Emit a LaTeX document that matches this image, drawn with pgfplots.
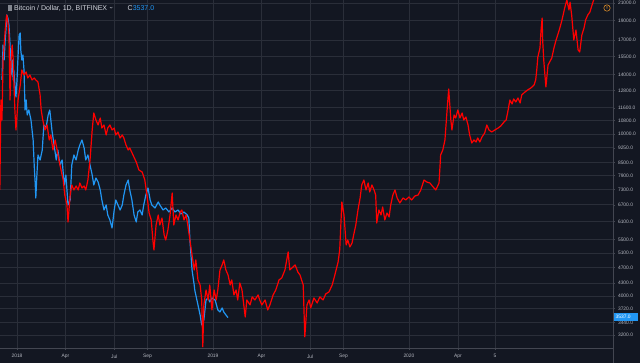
\documentclass[border=0pt]{standalone}
\usepackage{pgfplots}
\pgfplotsset{compat=1.18}
\usepackage{pgfplotstable}
\usepackage{fontspec}
\setmainfont{Liberation Sans}
\definecolor{bg}{HTML}{131722}
\definecolor{gridc}{HTML}{2A2E39}
\definecolor{txt}{HTML}{B2B5BE}
\definecolor{ttl}{HTML}{D1D4DC}
\definecolor{tvblue}{HTML}{2196F3}
\definecolor{tvred}{HTML}{FF0000}
\definecolor{axc}{HTML}{434651}
\definecolor{warn}{HTML}{F59B2A}

% day = days since 2018-01-01, price in USD
\pgfplotstableread{
day price
-32 7285
-30 12125
-28 10827
-26 15207
-24 16555
-22 18022
-20 19289
-19 19620
-17 18856
-15 17520
-13 12125
-11 15207
-9 16555
-7 15207
-6 13579
-4 11458
-2 10231
0 11138
2 12125
6 13200
9 14370
13 13969
17 14208
20 13733
24 13969
28 13579
32 13733
35 13579
39 13426
43 12473
45 11458
48 10827
52 10231
56 10525
60 9668
63 9946
67 9136
71 9668
74 9239
78 8633
82 8158
86 7709
89 7081
93 6692
95 6078
99 7081
102 7494
106 7285
110 7452
114 7285
117 7579
121 7367
125 7452
128 7285
132 7709
136 8633
140 10231
143 11264
147 10827
151 10525
155 10950
158 10347
162 10525
166 9946
169 10347
173 10525
177 10231
181 10347
184 9946
188 10115
192 9778
196 9946
199 9778
203 9398
207 9136
210 9239
216 8881
222 8535
227 8158
233 8066
238 7709
242 7081
246 6395
250 6147
253 5489
255 5187
259 5975
263 6323
266 5975
270 6216
274 5647
277 5489
281 5809
285 6323
289 7162
292 5975
296 6323
300 6147
304 6431
307 6505
311 6147
315 6323
318 5975
322 5489
326 5042
330 4632
333 4902
337 4377
341 4255
344 3909
346 2997
348 3800
352 4137
356 3909
359 4255
363 3694
367 4137
371 3909
374 4137
378 4632
382 4765
385 4902
389 4632
393 4503
397 4255
400 4377
404 4021
408 4137
411 3909
415 4303
419 4137
425 3550
428 3909
434 3800
438 3976
443 3909
449 4021
452 3909
456 3800
462 3909
467 3694
471 3800
477 4021
482 4137
488 4377
493 4427
499 4632
505 5128
508 4632
512 4684
518 4765
523 4580
527 4503
533 4255
536 3171
540 3800
544 3909
547 3736
553 3953
559 3843
564 3976
570 3909
575 4044
581 4090
587 4255
592 4503
598 4847
601 5187
605 6806
609 6323
613 5336
616 5489
620 5276
624 5396
627 5647
631 5975
635 6505
639 6961
642 7494
646 7709
650 7285
654 7579
657 7203
661 7494
665 7285
668 7081
670 6043
674 6505
678 6323
681 6616
685 6147
689 6395
693 6252
696 6692
700 7081
704 7285
708 6961
713 6768
719 6961
724 6884
730 7001
735 6884
741 7041
747 7081
752 7285
758 7709
763 7622
769 7579
775 7409
780 7285
786 7579
789 8881
793 9136
797 9668
801 11458
804 12904
808 10827
810 10231
814 11138
817 10950
821 11458
825 10950
829 11264
832 10827
836 11012
840 10525
843 9946
847 9505
851 9668
855 9559
858 9778
862 9559
866 9834
871 10058
875 10525
879 10231
884 10115
890 10231
896 10347
901 10466
907 10705
911 10827
914 11329
918 12125
922 11853
925 12194
929 11988
933 12262
937 11920
940 12473
946 12686
951 12831
957 12977
963 13200
966 13579
968 14370
970 15467
974 16275
976 18022
978 19289
979 17031
981 15207
985 13051
989 14782
992 15035
996 15380
1000 16275
1004 17031
1007 17520
1011 18227
1015 19072
1020 20412
1024 21360
1028 20183
1030 21100
1033 19620
1037 17031
1041 18022
1045 16093
1048 15911
1052 17520
1056 18227
1059 19072
1063 19620
1067 19955
1071 20763
1074 21360
1078 22500
}\redtable

\pgfplotstableread{
day price
-28 13579
-26 16555
-24 15207
-22 17031
-20 18540
-19 19620
-17 19289
-15 18540
-13 16555
-11 13969
-9 15207
-7 13579
-6 14370
-4 13200
-2 12332
0 13579
2 15644
4 17520
6 17717
7 16093
9 15207
11 15644
13 14370
15 11458
17 12125
19 11138
22 11458
26 10827
30 9668
32 8392
34 7494
35 6961
37 7930
39 8881
43 8633
47 9136
50 10525
54 10347
58 11138
61 11458
65 10231
69 9398
73 8633
76 9136
80 8392
84 8633
88 7494
91 7930
95 6692
99 6884
102 8392
106 8881
110 8633
114 9136
117 9398
121 9668
125 9239
128 8633
132 8881
136 8392
140 7930
143 7494
147 7796
151 7622
155 7285
158 6884
162 6505
166 6692
169 6323
173 6147
177 5874
181 6505
184 6884
188 6692
192 6505
196 6692
199 7081
203 7494
207 7709
210 7285
214 6884
218 6323
222 6078
225 6431
229 6505
233 6323
236 6692
240 7081
244 7367
248 6884
251 6692
257 6579
263 6806
266 6692
272 6505
277 6579
283 6431
289 6579
294 6431
300 6505
305 6359
311 6431
317 6323
320 6216
322 5489
326 4632
330 4255
331 4137
335 3909
339 3694
341 3591
344 3393
348 3491
352 3909
356 3953
359 3865
363 3953
369 3909
374 3694
378 3652
382 3736
385 3652
389 3591
393 3537
}\bluetable

\begin{document}
\begin{tikzpicture}[x=1pt,y=1pt]
\fill[bg] (0,-15) rectangle (640,348);
\begin{axis}[
  at={(0,0)}, anchor=south west,
  scale only axis, width=613pt, height=348pt,
  xmin=-31.7, xmax=1110, ymin=2978, ymax=21360,
  ymode=log,
  axis line style={draw=none},
  xtick={0,90,181,243,365,455,546,608,730,821,890},
  xticklabels={2018,Apr,Jul,Sep,2019,Apr,Jul,Sep,2020,Apr,5},
  ytick={21000,19000,17000,15500,14000,12800,11600,10800,10000,9250,8500,7900,7300,6700,6100,5500,5100,4700,4300,4000,3720,3440,3200},
  yticklabels={21000.0,19000.0,17000.0,15500.0,14000.0,12800.0,11600.0,10800.0,10000.0,9250.0,8500.0,7900.0,7300.0,6700.0,6100.0,5500.0,5100.0,4700.0,4300.0,4000.0,3720.0,3440.0,3200.0},
  minor ytick={}, yminorticks=false,
  xtick pos=bottom, ytick pos=right,
  yticklabel pos=right,
  tick align=outside, major tick length=2pt,
  tick style={axc, line width=0.5pt},
  grid=major, major grid style={gridc, line width=0.6pt},
  ticklabel style={font=\fontsize{4.9}{5}\selectfont, text=txt},
  yticklabel style={xshift=-0.5pt},
  xticklabel style={yshift=-1pt},
  /pgf/number format/assume math mode=true,
  clip=true,
]
\addplot[color=tvblue, line width=1.2pt, line join=round] table[x=day, y=price] {\bluetable};
\addplot[color=tvred, line width=1.2pt, line join=round] table[x=day, y=price] {\redtable};
\end{axis}
\draw[axc, line width=0.5pt] (613,-15) -- (613,348);
\draw[axc, line width=0.5pt] (0,0) -- (613,0);
% last price label
\fill[tvblue] (613.5,27) rectangle (638,35);
\node[text=white, font=\fontsize{4.9}{5}\selectfont, anchor=west, inner sep=0pt] at (615.5,31) {3537.0};
% title bar
\fill[txt!70!bg] (7.5,336.5) rectangle (11.5,343);
\node[anchor=west, text=ttl, font=\fontsize{7}{8}\selectfont, inner sep=0pt] at (14,340) {Bitcoin / Dollar, 1D, BITFINEX};
\draw[txt, line width=0.4pt] (109.8,341) -- (111.1,339.8) -- (112.4,341);
\node[anchor=west, text=ttl, font=\fontsize{7}{8}\selectfont, inner sep=0pt] at (127.5,340) {C\textcolor{tvblue}{3537.0}};
% warning icon
\draw[warn, line width=0.5pt] (607,340) circle (3.2);
\node[text=warn, font=\fontsize{4.5}{5}\selectfont\bfseries, inner sep=0pt] at (607,340) {!};
\pgfresetboundingbox
\useasboundingbox (0,-15) rectangle (640,348);
\end{tikzpicture}
\end{document}
